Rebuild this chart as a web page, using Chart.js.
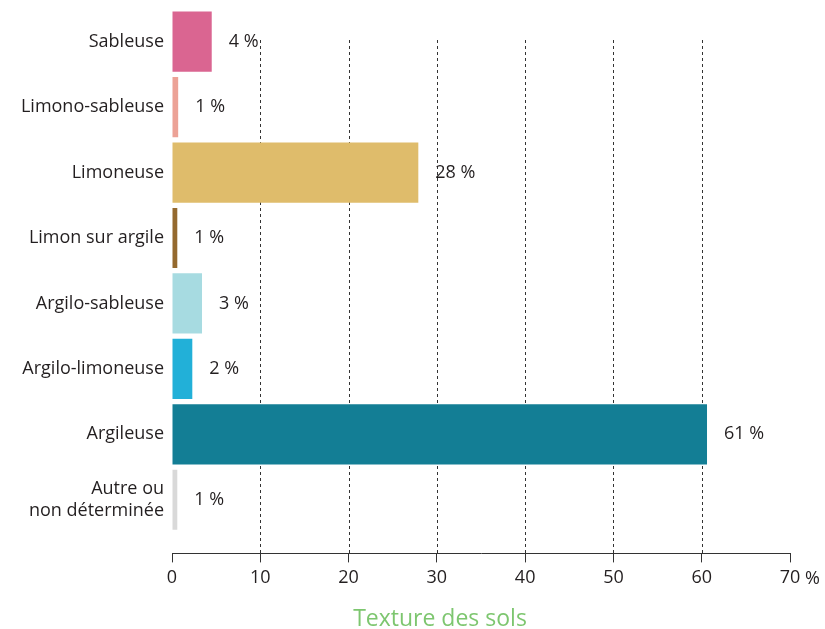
<!DOCTYPE html>
<html>
<head>
<meta charset="utf-8">
<script src="https://cdn.jsdelivr.net/npm/chart.js@4/dist/chart.umd.min.js"></script>
<style>
  html, body { margin: 0; padding: 0; background: #fff; }
  #wrap { width: 825px; height: 629px; }
</style>
</head>
<body>
<div id="wrap"><canvas id="soilChart"></canvas></div>
<script>
const categories = [
  "Sableuse",
  "Limono-sableuse",
  "Limoneuse",
  "Limon sur argile",
  "Argilo-sableuse",
  "Argilo-limoneuse",
  "Argileuse",
  ["Autre ou", "non déterminée"]
];
const values = [4.5, 0.7, 27.9, 0.6, 3.4, 2.3, 60.6, 0.6];
const shown = [4, 1, 28, 1, 3, 2, 61, 1];
const colors = [
  "#da6591",
  "#eca296",
  "#dfbc6b",
  "#94692e",
  "#a7dbe1",
  "#22b0d8",
  "#137e95",
  "#d9d9d9"
];
const xTicks = [0, 10, 20, 30, 40, 50, 60, 70];
const axisTitle = "Texture des sols";

const FONT = "'Open Sans', sans-serif";
const TEXT = "#231f20";

// dashed vertical lines behind the bars, starting a bit below the top
const dashedGrid = {
  id: "dashedGrid",
  beforeDatasetsDraw(chart) {
    const { ctx, chartArea, scales } = chart;
    ctx.save();
    ctx.strokeStyle = "#333";
    ctx.lineWidth = 1;
    ctx.setLineDash([3, 3]);
    xTicks.slice(1, -1).forEach(v => {
      const x = Math.round(scales.x.getPixelForValue(v)) + 0.5;
      ctx.beginPath();
      ctx.moveTo(x, 40);
      ctx.lineTo(x, chartArea.bottom);
      ctx.stroke();
    });
    ctx.restore();
  }
};

// value labels right of each bar, "%" after the last tick, green caption
const barText = {
  id: "barText",
  afterDraw(chart) {
    const { ctx, scales } = chart;
    const meta = chart.getDatasetMeta(0);
    ctx.save();
    ctx.font = "18px " + FONT;
    ctx.fillStyle = TEXT;
    ctx.textBaseline = "middle";
    ctx.textAlign = "left";
    meta.data.forEach((bar, i) => {
      ctx.fillText(shown[i] + " %", bar.x + 17, bar.y);
    });
    // unit after the last tick label
    const last = xTicks[xTicks.length - 1];
    const lx = scales.x.getPixelForValue(last) + ctx.measureText(String(last)).width / 2;
    const ly = scales.x.top + 9 + 5 + 11;
    ctx.fillText(" %", lx, ly);
    ctx.font = "23px " + FONT;
    ctx.fillStyle = "#7dc66f";
    ctx.textAlign = "center";
    ctx.textBaseline = "alphabetic";
    ctx.fillText(axisTitle, 440, 626);
    ctx.restore();
  }
};

new Chart(document.getElementById("soilChart"), {
  type: "bar",
  data: {
    datasets: [
      {
        data: values.map((v, i) => ({ x: v, y: i })),
        backgroundColor: colors,
        barPercentage: 0.92,
        categoryPercentage: 1
      }
    ]
  },
  options: {
    indexAxis: "y",
    responsive: true,
    maintainAspectRatio: false,
    animation: false,
    layout: { padding: { top: 9, right: 35, left: 0, bottom: 35 } },
    plugins: {
      legend: { display: false },
      tooltip: { enabled: false }
    },
    scales: {
      x: {
        type: "linear",
        min: 0,
        max: 70,
        afterBuildTicks: s => { s.ticks = xTicks.map(v => ({ value: v })); },
        grid: {
          drawOnChartArea: false,
          drawTicks: true,
          tickLength: 9,
          tickColor: "#333"
        },
        border: { display: true, color: "#333", width: 1 },
        ticks: {
          color: TEXT,
          font: { family: FONT, size: 18 },
          padding: 5,
          maxRotation: 0
        }
      },
      y: {
        type: "linear",
        offset: false,
        reverse: true,
        min: -0.5,
        max: 7.82,
        afterBuildTicks: s => { s.ticks = categories.map((_, i) => ({ value: i })); },
        afterFit: s => {
          s.width = 172;
          s.paddingTop = 0;
          s.paddingBottom = 0;
        },
        grid: { display: false },
        border: { display: false },
        ticks: {
          color: TEXT,
          font: { family: FONT, size: 18 },
          padding: 0,
          autoSkip: false,
          callback: v => categories[v]
        }
      }
    }
  },
  plugins: [dashedGrid, barText]
});
</script>
</body>
</html>
